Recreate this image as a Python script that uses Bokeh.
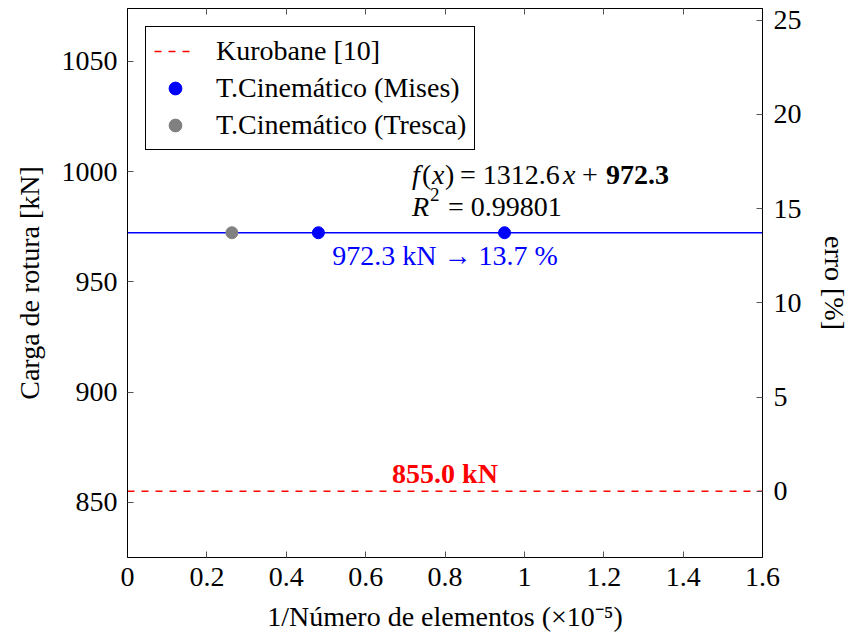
from bokeh.plotting import figure
from bokeh.models import (Range1d, LinearAxis, FixedTicker, CustomJSTickFormatter,
                          Label, Legend, LegendItem)
from bokeh.embed import file_html
from bokeh.resources import INLINE

# ---------------- data ----------------
x_ticks = [0, 0.2, 0.4, 0.6, 0.8, 1.0, 1.2, 1.4, 1.6]
y_ticks = [850, 900, 950, 1000, 1050]
err_ticks = [0, 5, 10, 15, 20, 25]
x_min, x_max = 0.0, 1.6
y_min, y_max = 825.0, 1074.0

kurobane = 855.0               # reference value [kN]
fit_value = 972.3              # extrapolated value [kN]
fit_slope = 1312.6
fit_r2 = 0.99801
mises_x = [0.481, 0.950]
mises_y = [972.3, 972.3]
tresca_x = [0.263]
tresca_y = [972.3]

err_min = (y_min - kurobane) / kurobane * 100
err_max = (y_max - kurobane) / kurobane * 100
err_fit = (fit_value - kurobane) / kurobane * 100

FONT = "Liberation Serif"
FS = "28px"

p = figure(width=852, height=640, x_range=Range1d(x_min, x_max),
           y_range=Range1d(y_min, y_max), output_backend="svg",
           toolbar_location=None, min_border_left=127, min_border_right=87,
           min_border_top=8, min_border_bottom=83)
p.grid.visible = False
p.outline_line_color = "black"
p.outline_line_width = 1
p.background_fill_color = "white"
p.border_fill_color = "white"

p.extra_y_ranges = {"err": Range1d(err_min, err_max)}

fmt = CustomJSTickFormatter(code="return String(Math.round(tick*10)/10);")

def style_axis(ax):
    ax.major_tick_in = 6
    ax.major_tick_out = 0
    ax.minor_tick_in = 0
    ax.minor_tick_out = 0
    ax.major_tick_line_color = "#555555"
    ax.axis_line_color = "black"
    ax.major_label_text_font = FONT
    ax.major_label_text_font_size = FS
    ax.major_label_text_color = "black"
    ax.major_label_standoff = 10
    ax.axis_label_text_font = FONT
    ax.axis_label_text_font_size = FS
    ax.axis_label_text_font_style = "normal"
    ax.axis_label_text_color = "black"

xa = p.xaxis[0]
xa.ticker = FixedTicker(ticks=x_ticks)
xa.formatter = fmt
xa.axis_label = "1/Número de elementos (×10⁻⁵)"
style_axis(xa)
xa.axis_label_standoff = 12

ya = p.yaxis[0]
ya.ticker = FixedTicker(ticks=y_ticks)
ya.axis_label = "Carga de rotura [kN]"
style_axis(ya)
ya.axis_label_standoff = 14

top = LinearAxis(ticker=FixedTicker(ticks=x_ticks),
                 formatter=CustomJSTickFormatter(code="return '';"))
style_axis(top)
top.major_label_standoff = 0
p.add_layout(top, "above")

ra = LinearAxis(y_range_name="err", ticker=FixedTicker(ticks=err_ticks),
                axis_label="erro [%]")
style_axis(ra)
ra.major_label_standoff = 11
ra.axis_label_standoff = 14
p.add_layout(ra, "right")

# ---------------- glyphs ----------------
r_kuro = p.line(x=[x_min, x_max], y=[kurobane, kurobane], line_color="red",
                line_width=1.5, line_dash="7 7")
p.line(x=[x_min, x_max], y=[fit_value, fit_value], line_color="blue", line_width=1.3)
r_mises = p.scatter(x=mises_x, y=mises_y, size=12, marker="circle",
                    fill_color="blue", line_color="blue")
r_tresca = p.scatter(x=tresca_x, y=tresca_y, size=12, marker="circle",
                     fill_color="gray", line_color="gray")

legend = Legend(items=[
    LegendItem(label="Kurobane [10]", renderers=[r_kuro]),
    LegendItem(label="T.Cinemático (Mises)", renderers=[r_mises]),
    LegendItem(label="T.Cinemático (Tresca)", renderers=[r_tresca]),
], location="top_left")
legend.label_text_font = FONT
legend.label_text_font_size = FS
legend.label_text_color = "black"
legend.border_line_color = "black"
legend.border_line_width = 1
legend.border_line_alpha = 1
legend.background_fill_alpha = 1
legend.margin = 18
legend.padding = 8
legend.spacing = 5
legend.glyph_width = 42
legend.glyph_height = 32
legend.label_height = 32
legend.label_standoff = 20
p.add_layout(legend)

# ---------------- annotations ----------------
def lab(x, y, text, xo=0, yo=0, color="black", style="normal", align="left", size=FS):
    p.add_layout(Label(x=x, y=y, x_offset=xo, y_offset=yo, text=text,
                       text_font=FONT, text_font_size=size, text_color=color,
                       text_font_style=style, text_align=align,
                       text_baseline="alphabetic"))

fx = 0.717
lab(fx, fit_value, "f", yo=58, style="italic")
lab(fx, fit_value, "(", xo=10, yo=58)
lab(fx, fit_value, "x", xo=20, yo=58, style="italic")
lab(fx, fit_value, ")", xo=33, yo=58)
lab(fx, fit_value, f"= {fit_slope}", xo=48, yo=58)
lab(fx, fit_value, "x", xo=151, yo=58, style="italic")
lab(fx, fit_value, "+", xo=170, yo=58)
lab(fx, fit_value, f"{fit_value}", xo=194, yo=58, style="bold")

lab(fx, fit_value, "R", yo=26, style="italic")
lab(fx, fit_value, "2", xo=18, yo=38, size="19px")
lab(fx, fit_value, f"= {fit_r2}", xo=36, yo=26)

lab(0.8, fit_value, f"{fit_value} kN → {err_fit:.1f} %", yo=-23, color="blue", align="center")
lab(0.8, kurobane, f"{kurobane:.1f} kN", yo=18, color="red", style="bold", align="center")

open("out.html", "w").write(file_html(p, INLINE))
